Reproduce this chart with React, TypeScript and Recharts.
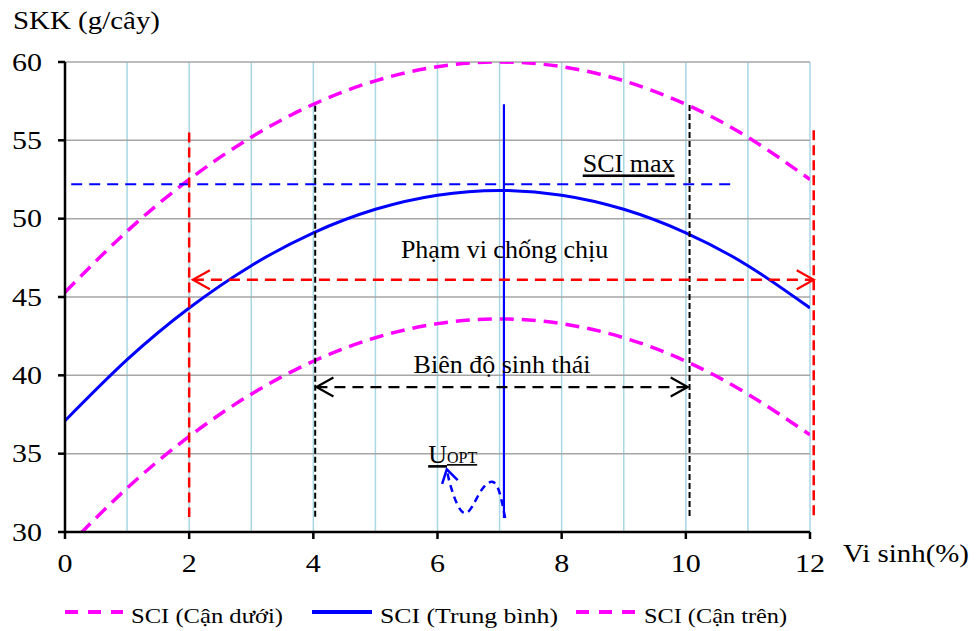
import React from 'react';
import {
  LineChart,
  Line,
  XAxis,
  YAxis,
  CartesianGrid,
  ReferenceLine,
  ReferenceDot,
  Legend,
} from 'recharts';

// ---------- data ----------
const xValues = [0, 1, 2, 3, 4, 5, 6, 7, 8, 9, 10, 11, 12];
const sciLower = [28.9, 32.8, 36.1, 38.8, 40.9, 42.4, 43.3, 43.6, 43.3, 42.4, 40.9, 38.8, 36.2];
const sciMean = [37.1, 41.0, 44.3, 47.0, 49.1, 50.6, 51.5, 51.8, 51.5, 50.6, 49.1, 47.0, 44.3];
const sciUpper = [45.3, 49.2, 52.5, 55.2, 57.3, 58.8, 59.7, 60.0, 59.7, 58.8, 57.3, 55.2, 52.5];

const xTicks = [0, 2, 4, 6, 8, 10, 12];
const yTicks = [30, 35, 40, 45, 50, 55, 60];
const gridXValues = [0, 1, 2, 3, 4, 5, 6, 7, 8, 9, 10, 11, 12];

const seriesNames = ['SCI (Cận dưới)', 'SCI (Trung bình)', 'SCI (Cận trên)'];

// wavy "U opt" arrow path (data units)
const uoptX = [7.09, 7.0, 6.88, 6.68, 6.44, 6.23, 6.15];
const uoptY = [30.9, 32.5, 33.2, 32.5, 31.2, 32.7, 34.0];

// annotation lines (data units)
const toleranceX = [2.0, 12.06];
const toleranceTop = [55.5, 55.65];
const toleranceBottom = 30.95;
const toleranceArrow = { y: 46.1, from: 2.06, to: 12.06 };

const amplitudeX = [4.03, 10.06];
const amplitudeTop = [57.2, 57.25];
const amplitudeBottom = 30.9;
const amplitudeArrow = { y: 39.25, from: 4.05, to: 10.03 };

const optimum = { x: 7.07, top: 57.3, bottom: 30.9 };
const sciMaxLine = { y: 52.2, from: 0.1, to: 10.82 };

const labels = {
  sciMax: { x: 8.34, y: 52.95, text: 'SCI max' },
  tolerance: { x: 7.08, y: 47.5, text: 'Phạm vi chống chịu' },
  amplitude: { x: 7.04, y: 40.15, text: 'Biên độ sinh thái' },
  uopt: { x: 5.85, y: 34.4, main: 'U', sub: 'OPT' },
};

const tableData = xValues.map((x, i) => ({
  x,
  lower: sciLower[i],
  mean: sciMean[i],
  upper: sciUpper[i],
}));
const uoptData = uoptX.map((x, i) => ({ x, y: uoptY[i] }));

// ---------- styles ----------
const FONT = "'Liberation Serif', 'Times New Roman', serif";
const PINK = '#FF00FF';
const BLUE = '#0000FF';
const RED = '#FF0000';

const chevron = (tx: number, ty: number, dx: number, dy: number, len: number, half: number, color: string, w: number, key: string) => {
  const L = Math.hypot(dx, dy) || 1;
  const ux = dx / L;
  const uy = dy / L;
  const bx = tx - ux * len;
  const by = ty - uy * len;
  const px = -uy;
  const py = ux;
  return (
    <polyline
      key={key}
      points={`${bx + px * half},${by + py * half} ${tx},${ty} ${bx - px * half},${by - py * half}`}
      fill="none"
      stroke={color}
      strokeWidth={w}
      strokeLinejoin="miter"
    />
  );
};

const makeDoubleArrow = (color: string, width: number, dash: string) => (props: any) => {
  const { x1, y1, x2, y2 } = props;
  return (
    <g>
      <line x1={x1} y1={y1} x2={x2} y2={y2} stroke={color} strokeWidth={width} strokeDasharray={dash} />
      {chevron(x1, y1, x1 - x2, y1 - y2, 17, 9.5, color, 2.2, 'a')}
      {chevron(x2, y2, x2 - x1, y2 - y1, 17, 9.5, color, 2.2, 'b')}
    </g>
  );
};

const makeTextShape = (text: string, anchor: 'start' | 'middle', underline: boolean) => (p: any) => (
  <text
    x={p.cx}
    y={p.cy}
    textAnchor={anchor}
    fontFamily={FONT}
    fontSize={26}
    fill="#000"
    textDecoration={underline ? 'underline' : undefined}
  >
    {text}
  </text>
);

const UoptShape = (p: any) => (
  <text x={p.cx} y={p.cy} fontFamily={FONT} fill="#000" textDecoration="underline">
    <tspan fontSize={26}>{labels.uopt.main}</tspan>
    <tspan fontSize={16}>{labels.uopt.sub}</tspan>
  </text>
);

const UoptDot = (p: any) => {
  const last = uoptData.length - 1;
  if (p.index !== last) return <g key={`d-${p.index}`} />;
  let dx = -0.25;
  let dy = -1;
  if (p.points && p.points[last - 1]) {
    dx = p.cx - p.points[last - 1].x;
    dy = p.cy - p.points[last - 1].y;
  }
  return <g key={`d-${p.index}`}>{chevron(p.cx, p.cy, dx, dy, 13, 8, BLUE, 2.5, 'u')}</g>;
};

const YTick = (p: any) => (
  <g transform={`translate(${p.x},${p.y}) scale(1.2,1)`}>
    <text x={0} y={0} dy="0.35em" textAnchor="end" fontFamily={FONT} fontSize={25} fill="#000">
      {p.payload.value}
    </text>
  </g>
);

const XTick = (p: any) => (
  <g transform={`translate(${p.x},${p.y}) scale(1.2,1)`}>
    <text x={0} y={0} dy="0.71em" textAnchor="middle" fontFamily={FONT} fontSize={25} fill="#000">
      {p.payload.value}
    </text>
  </g>
);

const legendPos = [65, 312, 576];
const legendSampleW = [58, 60, 60];
const legendTextW = [152, 178, 143];

const renderLegend = () => (
  <svg width={977} height={40}>
    {seriesNames.map((name, i) => {
      const x0 = legendPos[i];
      const dashed = i !== 1;
      return (
        <g key={name}>
          <line
            x1={x0}
            y1={17}
            x2={x0 + legendSampleW[i]}
            y2={17}
            stroke={dashed ? PINK : BLUE}
            strokeWidth={4}
            strokeDasharray={dashed ? '13 10' : undefined}
          />
          <text
            x={x0 + legendSampleW[i] + 8}
            y={28}
            fontFamily={FONT}
            fontSize={22}
            fill="#000"
            textLength={legendTextW[i]}
            lengthAdjust="spacingAndGlyphs"
          >
            {name}
          </text>
        </g>
      );
    })}
  </svg>
);

export default function App() {
  return (
    <div style={{ position: 'absolute', left: 0, top: 0, width: 977, height: 631, background: '#fff' }}>
      <LineChart
        width={977}
        height={631}
        data={tableData}
        margin={{ top: 62, right: 167, bottom: 0, left: 0 }}
      >
        <CartesianGrid horizontal={false} vertical={true} verticalValues={gridXValues} stroke="#A8D8E4" strokeWidth={1.5} />
        <CartesianGrid horizontal={true} vertical={false} horizontalValues={yTicks} stroke="#A6A6A6" strokeWidth={1.5} />
        <XAxis
          type="number"
          dataKey="x"
          domain={[0, 12]}
          ticks={xTicks}
          allowDataOverflow
          height={99}
          axisLine={{ stroke: '#000', strokeWidth: 2.5 }}
          tickLine={{ stroke: '#000', strokeWidth: 2.5 }}
          tickSize={7}
          tickMargin={15}
          tick={XTick}
        />
        <YAxis
          type="number"
          domain={[30, 60]}
          ticks={yTicks}
          allowDataOverflow
          width={65}
          axisLine={{ stroke: '#000', strokeWidth: 2.5 }}
          tickLine={{ stroke: '#000', strokeWidth: 2.5 }}
          tickSize={7}
          tickMargin={16}
          tick={YTick}
        />

        <Line
          name={seriesNames[0]}
          dataKey="lower"
          type="natural"
          stroke={PINK}
          strokeWidth={3.5}
          strokeDasharray="14 8"
          dot={false}
          activeDot={false}
          isAnimationActive={false}
        />
        <Line
          name={seriesNames[1]}
          dataKey="mean"
          type="natural"
          stroke={BLUE}
          strokeWidth={3}
          dot={false}
          activeDot={false}
          isAnimationActive={false}
        />
        <Line
          name={seriesNames[2]}
          dataKey="upper"
          type="natural"
          stroke={PINK}
          strokeWidth={3.5}
          strokeDasharray="14 8"
          dot={false}
          activeDot={false}
          isAnimationActive={false}
        />

        {/* SCI max dashed line */}
        <ReferenceLine
          segment={[{ x: sciMaxLine.from, y: sciMaxLine.y }, { x: sciMaxLine.to, y: sciMaxLine.y }]}
          stroke={BLUE}
          strokeWidth={2}
          strokeDasharray="11 7"
          ifOverflow="visible"
        />
        {/* tolerance range verticals */}
        {toleranceX.map((x, i) => (
          <ReferenceLine
            key={`tol-${i}`}
            segment={[{ x, y: toleranceTop[i] }, { x, y: toleranceBottom }]}
            stroke={RED}
            strokeWidth={2.5}
            strokeDasharray="10 5"
            ifOverflow="visible"
          />
        ))}
        {/* ecological amplitude verticals */}
        {amplitudeX.map((x, i) => (
          <ReferenceLine
            key={`amp-${i}`}
            segment={[{ x, y: amplitudeTop[i] }, { x, y: amplitudeBottom }]}
            stroke="#000"
            strokeWidth={2}
            strokeDasharray="6 3"
            ifOverflow="visible"
          />
        ))}
        {/* optimum vertical */}
        <ReferenceLine
          segment={[{ x: optimum.x, y: optimum.top }, { x: optimum.x, y: optimum.bottom }]}
          stroke={BLUE}
          strokeWidth={2.2}
          ifOverflow="visible"
        />
        {/* arrows */}
        <ReferenceLine
          segment={[{ x: toleranceArrow.from, y: toleranceArrow.y }, { x: toleranceArrow.to, y: toleranceArrow.y }]}
          ifOverflow="visible"
          shape={makeDoubleArrow(RED, 2.5, '11 7')}
        />
        <ReferenceLine
          segment={[{ x: amplitudeArrow.from, y: amplitudeArrow.y }, { x: amplitudeArrow.to, y: amplitudeArrow.y }]}
          ifOverflow="visible"
          shape={makeDoubleArrow('#000', 2.2, '11 7')}
        />

        {/* U opt wavy arrow */}
        <Line
          data={uoptData}
          dataKey="y"
          type="natural"
          stroke={BLUE}
          strokeWidth={2.5}
          strokeDasharray="7 5"
          dot={UoptDot}
          activeDot={false}
          legendType="none"
          isAnimationActive={false}
        />

        {/* labels */}
        <ReferenceDot x={labels.sciMax.x} y={labels.sciMax.y} ifOverflow="visible" shape={makeTextShape(labels.sciMax.text, 'start', true)} />
        <ReferenceDot x={labels.tolerance.x} y={labels.tolerance.y} ifOverflow="visible" shape={makeTextShape(labels.tolerance.text, 'middle', false)} />
        <ReferenceDot x={labels.amplitude.x} y={labels.amplitude.y} ifOverflow="visible" shape={makeTextShape(labels.amplitude.text, 'middle', false)} />
        <ReferenceDot x={labels.uopt.x} y={labels.uopt.y} ifOverflow="visible" shape={UoptShape} />

        {/* axis titles */}
        <text x={13} y={29} fontFamily={FONT} fontSize={26} fill="#000" textLength={147} lengthAdjust="spacingAndGlyphs">SKK (g/cây)</text>
        <text x={843} y={562} fontFamily={FONT} fontSize={26} fill="#000" textLength={126} lengthAdjust="spacingAndGlyphs">Vi sinh(%)</text>

        <Legend
          layout="horizontal"
          verticalAlign="middle"
          align="center"
          wrapperStyle={{ top: 595, left: 0, width: 977, height: 36 }}
          content={renderLegend}
        />
      </LineChart>
    </div>
  );
}
